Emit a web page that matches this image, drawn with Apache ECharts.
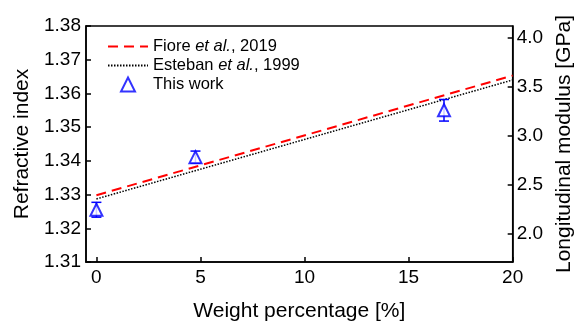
<!DOCTYPE html>
<html>
<head>
<meta charset="utf-8">
<script src="https://cdn.jsdelivr.net/npm/echarts@6/dist/echarts.min.js"></script>
<style>html,body{margin:0;padding:0;background:#fff;}#c{width:583px;height:327px;}</style>
</head>
<body>
<div id="c"></div>
<script>
// ---- data ----
var lineX = [0, 20];
var fioreN = [1.3298, 1.3653];
var estebanN = [1.3287, 1.3640];
var workX = [0, 4.76, 16.7];
var workN = [1.3255, 1.3411, 1.3550];
var workErr = [0.0022, 0.0018, 0.0032];
var xTicks = [0, 5, 10, 15, 20];
var modulusTicks = [2.0, 2.5, 3.0, 3.5, 4.0];
var seriesNames = ['Fiore et al., 2019', 'Esteban et al., 1999', 'This work'];

var FONT = 'Liberation Sans, Arial, sans-serif';
function pairs(xs, ys){ return xs.map(function(x,i){return [x, ys[i]];}); }
var errData = workX.map(function(x,i){ return [x, workN[i]-workErr[i], workN[i]+workErr[i]]; });

var chart = echarts.init(document.getElementById('c'));
chart.setOption({
  animation: false,
  backgroundColor: '#fff',
  grid: {left: 86, right: 69, top: 26, bottom: 65, show: true, borderColor: '#000', borderWidth: 1.5, backgroundColor: 'transparent'},
  legend: {
    orient: 'vertical', left: 102, top: 33,
    itemWidth: 40, itemHeight: 14, itemGap: 2,
    data: [
      {name: seriesNames[0], itemStyle: {opacity: 0}},
      {name: seriesNames[1], itemStyle: {opacity: 0}},
      {name: seriesNames[2], icon: 'path://M6,0L12,12L0,12Z', itemStyle: {color: '#ffffff', borderColor: '#0000ff', borderWidth: 2}}
    ],
    formatter: function(n){
      if (n.indexOf('et al.') >= 0) {
        var p = n.split('et al.');
        return '{n|' + p[0] + '}{i|et al.}{n|' + p[1] + '}';
      }
      return '{n|' + n + '}';
    },
    textStyle: {
      color: '#000', fontFamily: FONT, fontSize: 16.5,
      rich: {n: {fontFamily: FONT, fontSize: 16.5, lineHeight: 16, color: '#000'}, i: {fontFamily: FONT, fontSize: 16.5, lineHeight: 16, fontStyle: 'italic', color: '#000'}}
    }
  },
  xAxis: {
    type: 'value', min: -0.5, max: 20,
    name: 'Weight percentage [%]', nameLocation: 'middle', nameGap: 39,
    nameTextStyle: {fontFamily: FONT, fontSize: 21, color: '#000'},
    axisLine: {show: true, onZero: false, lineStyle: {color: '#000', width: 1.5}},
    axisTick: {show: true, inside: true, length: 5, customValues: xTicks, lineStyle: {color: '#000', width: 1.5}},
    axisLabel: {customValues: xTicks, margin: 6, fontFamily: FONT, fontSize: 19, color: '#000'},
    splitLine: {show: false}
  },
  yAxis: [{
    type: 'value', min: 1.31, max: 1.38, interval: 0.01, position: 'left',
    name: 'Refractive index', nameLocation: 'middle', nameGap: 47,
    nameTextStyle: {fontFamily: FONT, fontSize: 21, color: '#000'},
    axisLine: {show: true, onZero: false, lineStyle: {color: '#000', width: 1.5}},
    axisTick: {show: true, inside: true, length: 5, lineStyle: {color: '#000', width: 1.5}},
    axisLabel: {margin: 5, fontFamily: FONT, fontSize: 19, color: '#000', formatter: function(v){return v.toFixed(2);}},
    splitLine: {show: false}
  }, {
    type: 'value', min: 1.707, max: 4.115, position: 'right',
    name: 'Longitudinal modulus [GPa]', nameLocation: 'middle', nameGap: 36, nameRotate: 90,
    nameTextStyle: {fontFamily: FONT, fontSize: 21, color: '#000'},
    axisLine: {show: true, onZero: false, lineStyle: {color: '#000', width: 1.5}},
    axisTick: {show: true, inside: true, length: 5, customValues: modulusTicks, lineStyle: {color: '#000', width: 1.5}},
    axisLabel: {customValues: modulusTicks, margin: 4, fontFamily: FONT, fontSize: 19, color: '#000', formatter: function(v){return v.toFixed(1);}},
    splitLine: {show: false}
  }],
  series: [{
    name: seriesNames[0], type: 'line', data: pairs(lineX, fioreN), symbol: 'none',
    lineStyle: {color: '#ff0000', width: 2, type: [10, 6]}, itemStyle: {color: '#ff0000'}, z: 3
  }, {
    name: seriesNames[1], type: 'line', data: pairs(lineX, estebanN), symbol: 'none',
    lineStyle: {color: '#000', width: 1.5, type: [1.5, 1.5]}, itemStyle: {color: '#000'}, z: 3
  }, {
    name: 'err', type: 'custom', data: errData, z: 4,
    renderItem: function(params, api){
      var x = api.value(0);
      var lo = api.coord([x, api.value(1)]);
      var hi = api.coord([x, api.value(2)]);
      var w = 5;
      var st = {stroke: '#0000ff', lineWidth: 1.5, fill: null};
      return {type: 'group', children: [
        {type: 'line', shape: {x1: lo[0], y1: lo[1], x2: hi[0], y2: hi[1]}, style: st},
        {type: 'line', shape: {x1: lo[0]-w, y1: lo[1], x2: lo[0]+w, y2: lo[1]}, style: st},
        {type: 'line', shape: {x1: hi[0]-w, y1: hi[1], x2: hi[0]+w, y2: hi[1]}, style: st}
      ]};
    }
  }, {
    name: seriesNames[2], type: 'scatter', data: pairs(workX, workN), z: 5,
    symbol: 'triangle', symbolSize: [12, 12],
    itemStyle: {color: '#ffffff', borderColor: '#0000ff', borderWidth: 2}
  }]
});
</script>
</body>
</html>
